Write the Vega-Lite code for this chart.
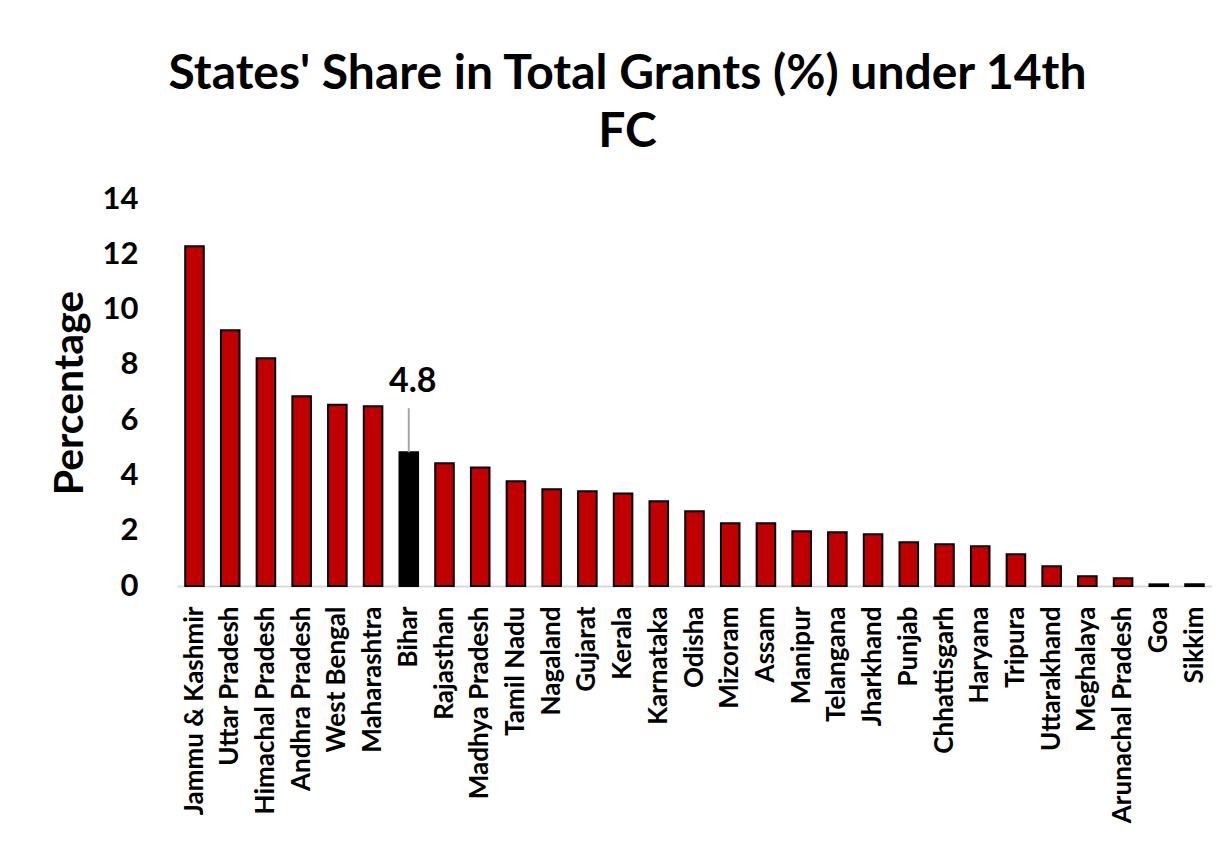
{
  "$schema": "https://vega.github.io/schema/vega-lite/v6.json",
  "autosize": "none",
  "padding": {"left": 177, "top": 199, "right": 17, "bottom": 257},
  "width": 1035,
  "height": 387,
  "background": "white",
  "title": {
    "text": ["States' Share in Total Grants (%) under 14th", "FC"],
    "font": "Lato",
    "fontSize": 48,
    "fontWeight": "bold",
    "color": "black",
    "lineHeight": 58,
    "anchor": "middle",
    "dx": -67,
    "offset": 26
  },
  "data": {
    "values": [
      {"state": "Jammu & Kashmir", "share": 12.29},
      {"state": "Uttar Pradesh", "share": 9.25},
      {"state": "Himachal Pradesh", "share": 8.24},
      {"state": "Andhra Pradesh", "share": 6.86},
      {"state": "West Bengal", "share": 6.56},
      {"state": "Maharashtra", "share": 6.5},
      {"state": "Bihar", "share": 4.84},
      {"state": "Rajasthan", "share": 4.44},
      {"state": "Madhya Pradesh", "share": 4.29},
      {"state": "Tamil Nadu", "share": 3.79},
      {"state": "Nagaland", "share": 3.5},
      {"state": "Gujarat", "share": 3.43},
      {"state": "Kerala", "share": 3.35},
      {"state": "Karnataka", "share": 3.07},
      {"state": "Odisha", "share": 2.7},
      {"state": "Mizoram", "share": 2.27},
      {"state": "Assam", "share": 2.27},
      {"state": "Manipur", "share": 1.98},
      {"state": "Telangana", "share": 1.94},
      {"state": "Jharkhand", "share": 1.87},
      {"state": "Punjab", "share": 1.58},
      {"state": "Chhattisgarh", "share": 1.51},
      {"state": "Haryana", "share": 1.44},
      {"state": "Tripura", "share": 1.15},
      {"state": "Uttarakhand", "share": 0.71},
      {"state": "Meghalaya", "share": 0.35},
      {"state": "Arunachal Pradesh", "share": 0.28},
      {"state": "Goa", "share": 0.06},
      {"state": "Sikkim", "share": 0.06}
    ]
  },
  "encoding": {
    "x": {
      "field": "state",
      "type": "nominal",
      "sort": null,
      "scale": {"paddingInner": 0.48, "paddingOuter": 0.23},
      "axis": {
        "title": null,
        "labelAngle": -90,
        "labelFont": "Lato",
        "labelFontSize": 26,
        "labelFontWeight": "bold",
        "labelColor": "black",
        "labelPadding": 20,
        "ticks": false,
        "tickSize": 0,
        "domainColor": "#d9d9d9",
        "domainWidth": 2,
        "labelOverlap": false,
        "labelLimit": 400
      }
    },
    "y": {
      "field": "share",
      "type": "quantitative",
      "scale": {"domain": [0, 14]},
      "axis": {
        "title": "Percentage",
        "titleFont": "Lato",
        "titleFontSize": 41,
        "titleFontWeight": "bold",
        "titleColor": "black",
        "titlePadding": 11,
        "values": [0, 2, 4, 6, 8, 10, 12, 14],
        "labelFont": "Lato",
        "labelFontSize": 31,
        "labelFontWeight": "bold",
        "labelColor": "black",
        "labelPadding": 39,
        "ticks": false,
        "tickSize": 0,
        "domain": false,
        "grid": false
      }
    }
  },
  "layer": [
    {
      "mark": {"type": "bar", "stroke": "black", "strokeWidth": 2},
      "encoding": {
        "color": {
          "condition": {"test": "datum.state === 'Bihar'", "value": "black"},
          "value": "#C00000"
        }
      }
    },
    {
      "transform": [{"filter": "datum.state === 'Bihar'"}],
      "mark": {"type": "rule", "color": "#a6a6a6", "strokeWidth": 2, "y2Offset": -44},
      "encoding": {
        "y2": {"field": "share"}
      }
    },
    {
      "transform": [{"filter": "datum.state === 'Bihar'"}],
      "mark": {
        "type": "text",
        "font": "Lato",
        "fontSize": 34,
        "fontWeight": "bold",
        "color": "black",
        "baseline": "middle",
        "dx": 4,
        "dy": -70
      },
      "encoding": {
        "text": {"field": "share", "type": "quantitative", "format": ".1f"}
      }
    }
  ],
  "config": {
    "view": {"stroke": null}
  }
}
